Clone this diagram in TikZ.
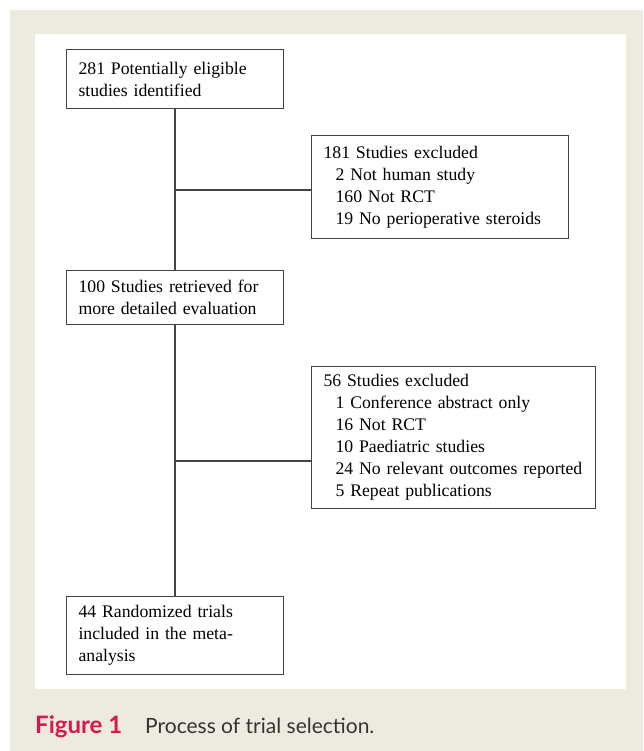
\documentclass[tikz,border=0pt]{standalone}
\usepackage{fontspec}
\newfontfamily\boxfont{Liberation Serif}
\newfontfamily\capfont{Lato}
\definecolor{beige}{HTML}{EDEBE0}
\definecolor{figred}{HTML}{D7194A}
\definecolor{capgray}{HTML}{333333}
\definecolor{linegray}{HTML}{444444}
\hyphenpenalty=10000
\begin{document}
\begin{tikzpicture}[x=1pt,y=-1pt,
  box/.style={draw=linegray, line width=1.1pt, anchor=north west, align=left,
    inner xsep=12pt, inner ysep=0pt, font=\boxfont\fontsize{17.7}{22}\selectfont, text=black},
  conn/.style={draw=linegray, line width=1.1pt}]
\useasboundingbox (0,0) rectangle (643,751);
\fill[white] (0,0) rectangle (643,751);
\fill[beige] (10,10) rectangle (643,751);
\fill[white] (35,34) rectangle (626,689);
\node[box, minimum width=217pt, minimum height=59pt, text width=193pt] (b1) at (66,49)
  {281 Potentially eligible\\studies identified};
\node[box, minimum width=257pt, minimum height=103pt, text width=233pt] (b2) at (311,135)
  {181 Studies excluded\\\hspace*{12pt}2 Not human study\\\hspace*{12pt}160 Not RCT\\\hspace*{12pt}19 No perioperative steroids};
\node[box, minimum width=217pt, minimum height=54pt, text width=193pt] (b3) at (66,270)
  {100 Studies retrieved for\\more detailed evaluation};
\node[box, minimum width=284pt, minimum height=142pt, text width=260pt] (b4) at (311,366)
  {56 Studies excluded\\\hspace*{12pt}1 Conference abstract only\\\hspace*{12pt}16 Not RCT\\\hspace*{12pt}10 Paediatric studies\\\hspace*{12pt}\mbox{24 No relevant outcomes reported}\\\hspace*{12pt}5 Repeat publications};
\node[box, minimum width=217pt, minimum height=78pt, text width=193pt] (b5) at (66,596)
  {44 Randomized trials\\included in the meta-\\analysis};
\coordinate (j1) at (175,190);
\coordinate (j2) at (175,461);
\draw[conn] (b1.south -| j1) -- (b3.north -| j1);
\draw[conn] (b3.south -| j2) -- (b5.north -| j2);
\draw[conn] (j1) -- (j1 -| b2.west);
\draw[conn] (j2) -- (j2 -| b4.west);
\node[anchor=base west, inner sep=0pt, text=figred, font=\capfont\bfseries\fontsize{24}{28}\selectfont] (fig) at (35,733) {Figure 1};
\node[anchor=base west, inner sep=0pt, text=capgray, font=\capfont\fontsize{21}{26}\selectfont] (cap) at (145,733) {Process of trial selection.};
\end{tikzpicture}
\end{document}
